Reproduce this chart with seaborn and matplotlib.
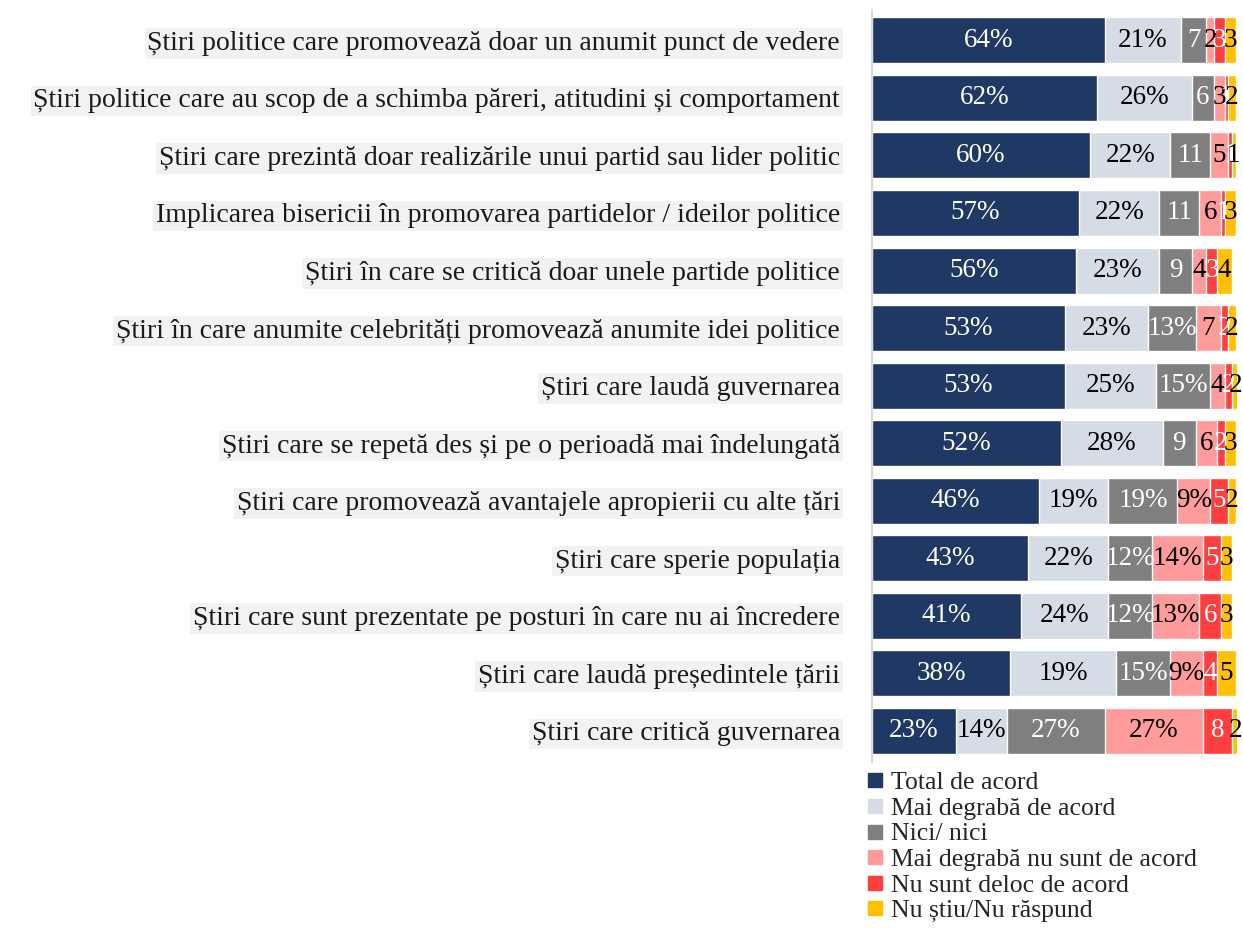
import numpy as np
import pandas as pd
import matplotlib
matplotlib.use("Agg")
import matplotlib.pyplot as plt
import seaborn as sns
from matplotlib.lines import Line2D

categories = [
    "Știri politice care promovează doar un anumit punct de vedere",
    "Știri politice care au scop de a schimba păreri, atitudini și comportament",
    "Știri care prezintă doar realizările unui partid sau lider politic",
    "Implicarea bisericii în promovarea partidelor / ideilor politice",
    "Știri în care se critică doar unele partide politice",
    "Știri în care anumite celebrități promovează anumite idei politice",
    "Știri care laudă guvernarea",
    "Știri care se repetă des și pe o perioadă mai îndelungată",
    "Știri care promovează avantajele apropierii cu alte țări",
    "Știri care sperie populația",
    "Știri care sunt prezentate pe posturi în care nu ai încredere",
    "Știri care laudă președintele țării",
    "Știri care critică guvernarea",
]

series = [
    "Total de acord",
    "Mai degrabă de acord",
    "Nici/ nici",
    "Mai degrabă nu sunt de acord",
    "Nu sunt deloc de acord",
    "Nu știu/Nu răspund",
]

total_acord = [64, 62, 60, 57, 56, 53, 53, 52, 46, 43, 41, 38, 23]
mai_degraba_acord = [21, 26, 22, 22, 23, 23, 25, 28, 19, 22, 24, 29, 14]
nici_nici = [7, 6, 11, 11, 9, 13, 15, 9, 19, 12, 12, 15, 27]
mai_degraba_nu = [2, 3, 5, 6, 4, 7, 4, 6, 9, 14, 13, 9, 27]
deloc = [3, 1, 1, 1, 3, 2, 2, 2, 5, 5, 6, 4, 8]
nu_stiu = [3, 2, 1, 3, 4, 2, 2, 3, 2, 3, 3, 5, 2]

# labels as printed on the original chart
labels_total = ["64%", "62%", "60%", "57%", "56%", "53%", "53%", "52%", "46%", "43%", "41%", "38%", "23%"]
labels_mai = ["21%", "26%", "22%", "22%", "23%", "23%", "25%", "28%", "19%", "22%", "24%", "19%", "14%"]
labels_nici = ["7", "6", "11", "11", "9", "13%", "15%", "9", "19%", "12%", "12%", "15%", "27%"]
labels_mai_nu = ["2", "3", "5", "6", "4", "7", "4", "6", "9%", "14%", "13%", "9%", "27%"]
labels_deloc = ["3", "1", "1", "1", "3", "2", "2", "2", "5", "5", "6", "4", "8"]
labels_nu_stiu = ["3", "2", "1", "3", "4", "2", "2", "3", "2", "3", "3", "5", "2"]

colors = ["#203864", "#d6dce5", "#7f7f7f", "#ff9b9b", "#ff3f3f", "#ffc000"]
text_colors = ["white", "black", "white", "black", "white", "black"]

values = [total_acord, mai_degraba_acord, nici_nici, mai_degraba_nu, deloc, nu_stiu]
labels = [labels_total, labels_mai, labels_nici, labels_mai_nu, labels_deloc, labels_nu_stiu]

sns.set_style("white")
plt.rcParams["font.family"] = ["Liberation Serif", "DejaVu Serif"]

fig = plt.figure(figsize=(12.43, 9.5), dpi=100)
ax = fig.add_axes([0.7015, 0.198, 0.294, 0.791])

df = pd.DataFrame(np.array(values).T, columns=series)
df["cat"] = categories
cum = df[series].cumsum(axis=1)

# stacked bars: draw cumulative totals from the back to the front
for k in range(len(series) - 1, -1, -1):
    sns.barplot(x=cum[series[k]], y=df["cat"], orient="h", color=colors[k],
                width=0.8, ax=ax, saturation=1, order=categories)

for k in range(len(series)):
    left = cum[series[k]] - df[series[k]]
    for i in range(len(categories)):
        v = df[series[k]].iloc[i]
        ax.text(left.iloc[i] + v / 2, i, labels[k][i], ha="center", va="center",
                color=text_colors[k], fontsize=19.5)

ax.set_xlim(0, 100.5)
ax.set_ylim(12.54, -0.52)
ax.set_xlabel("")
ax.set_ylabel("")
ax.set_xticks([])
for s in ["top", "right", "bottom"]:
    ax.spines[s].set_visible(False)
ax.spines["left"].set_color("#d9d9d9")
ax.spines["left"].set_linewidth(1.5)

ax.tick_params(axis="y", length=0, pad=23)
for t in ax.get_yticklabels():
    t.set_fontsize(20)
    t.set_color("#1a1a1a")
    t.set_bbox(dict(facecolor="#f2f2f2", edgecolor="none", pad=2))

handles = [Line2D([0], [0], marker="s", linestyle="none", markersize=10,
                  markerfacecolor=c, markeredgecolor=c) for c in colors]
fig.legend(handles, series, loc="upper left", bbox_to_anchor=(0.694, 0.188),
           frameon=False, fontsize=18.5, labelspacing=0.1, handletextpad=0.1,
           handlelength=1.0, borderaxespad=0, borderpad=0)

fig.savefig("out.png", dpi=100)
